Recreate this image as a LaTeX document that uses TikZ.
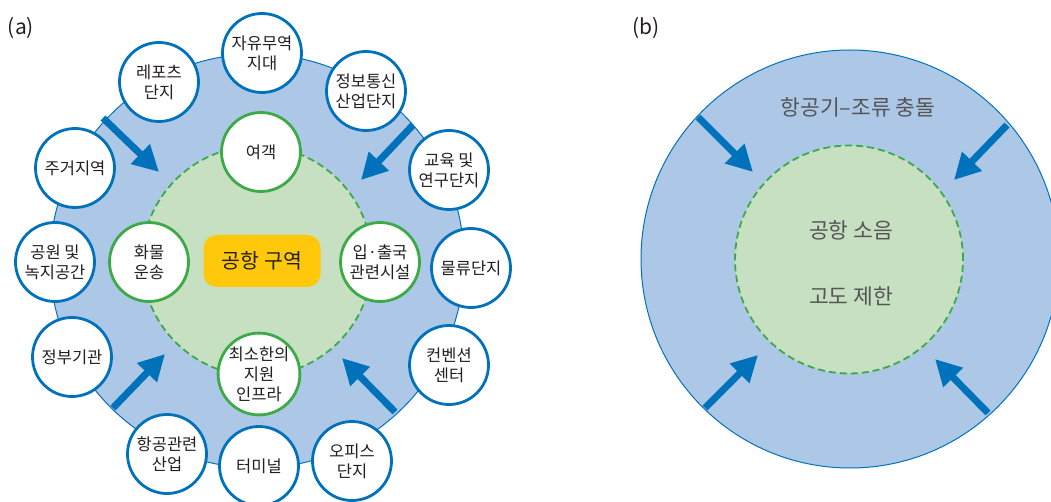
\documentclass[tikz,border=0pt]{standalone}
\usepackage{fontspec}
\setmainfont{Noto Sans CJK KR}
\usetikzlibrary{arrows.meta}
\definecolor{ringblue}{RGB}{173,200,230}
\definecolor{lineblue}{RGB}{0,114,188}
\definecolor{coregreen}{RGB}{199,224,193}
\definecolor{linegreen}{RGB}{61,170,72}
\definecolor{boxyellow}{RGB}{255,200,10}
\definecolor{txt}{RGB}{35,31,32}
\definecolor{txtgray}{RGB}{85,85,85}
\newcommand\circfont{\fontsize{16.5}{20}\selectfont}
\newcommand\bigfont{\fontsize{21.5}{25}\selectfont}
\begin{document}
\begin{tikzpicture}[x=1pt,y=-1pt,
  ring/.style={circle, fill=ringblue, draw=lineblue, line width=1pt, minimum size=#1, inner sep=0pt},
  core/.style={circle, fill=coregreen, draw=linegreen, line width=1.8pt, dash pattern=on 7pt off 4pt, minimum size=#1, inner sep=0pt},
  outc/.style={circle, fill=white, draw=lineblue, line width=2.8pt, minimum size=79pt, inner sep=0pt, align=center, font=\circfont, text=txt},
  inc/.style={outc, draw=linegreen},
  push/.style={draw=lineblue, line width=7pt, -{Triangle[length=26pt,width=26pt]}},
  plain/.style={font=\bigfont, text=txtgray, inner sep=0pt},
  tag/.style={font=\fontsize{21}{25}\selectfont, text=txt, inner sep=0pt}
]
\useasboundingbox (0,0) rectangle (1051,502);

% ---------------- panel (a)
\node[tag] (la) at (21,28) {(a)};
\node[ring=414pt] (ringA) at (257,261) {};
\node[core=230pt] (coreA) at (257,261) {};

\coordinate (a1s) at (103,118); \coordinate (a1e) at (159,172);
\coordinate (a2s) at (413,125); \coordinate (a2e) at (361,180);
\coordinate (a3s) at (113,408); \coordinate (a3e) at (165,354);
\coordinate (a4s) at (395,412); \coordinate (a4e) at (342,358);
\draw[push] (a1s) -- (a1e);
\draw[push] (a2s) -- (a2e);
\draw[push] (a3s) -- (a3e);
\draw[push] (a4s) -- (a4e);

\node[fill=boxyellow, rounded corners=13pt, minimum width=117pt, minimum height=52pt,
      font=\fontsize{20.5}{24}\selectfont, text=txt] (zone) at (262,261) {공항 구역};

\node[inc] (yeogaek) at (261,152) {여객};
\node[inc] (hwamul) at (149,262) {화물\\운송};
\node[inc] (ipchul) at (380,262) {입·출국\\관련시설};
\node[inc] (infra) at (259,374) {최소한의\\지원\\인프라};

\node[outc] (ftz) at (262,53) {자유무역\\지대};
\node[outc] (ict) at (366,91) {정보통신\\산업단지};
\node[outc] (edu) at (449,170) {교육 및\\연구단지};
\node[outc] (logi) at (471,268) {물류단지};
\node[outc] (conv) at (449,365) {컨벤션\\센터};
\node[outc] (office) at (352,461) {오피스\\단지};
\node[outc] (term) at (259,466) {터미널};
\node[outc] (aero) at (167,454) {항공관련\\산업};
\node[outc] (gov) at (72,357) {정부기관};
\node[outc] (park) at (55,262) {공원 및\\녹지공간};
\node[outc] (home) at (75,168) {주거지역};
\node[outc] (leis) at (159,82) {레포츠\\단지};

% ---------------- panel (b)
\node[tag] (lb) at (646,28) {(b)};
\node[ring=418pt] (ringB) at (850,259) {};
\node[core=228pt] (coreB) at (849,259.5) {};

\coordinate (b1s) at (698,117); \coordinate (b1e) at (753,172);
\coordinate (b2s) at (1007,125); \coordinate (b2e) at (954,180);
\coordinate (b3s) at (705,408); \coordinate (b3e) at (758,355);
\coordinate (b4s) at (988,413); \coordinate (b4e) at (935,359);
\draw[push] (b1s) -- (b1e);
\draw[push] (b2s) -- (b2e);
\draw[push] (b3s) -- (b3e);
\draw[push] (b4s) -- (b4e);

\node[plain] (bird) at (858,107) {항공기–조류 충돌};
\node[plain] (noise) at (851,230) {공항 소음};
\node[plain] (height) at (851,296) {고도 제한};
\end{tikzpicture}
\end{document}
